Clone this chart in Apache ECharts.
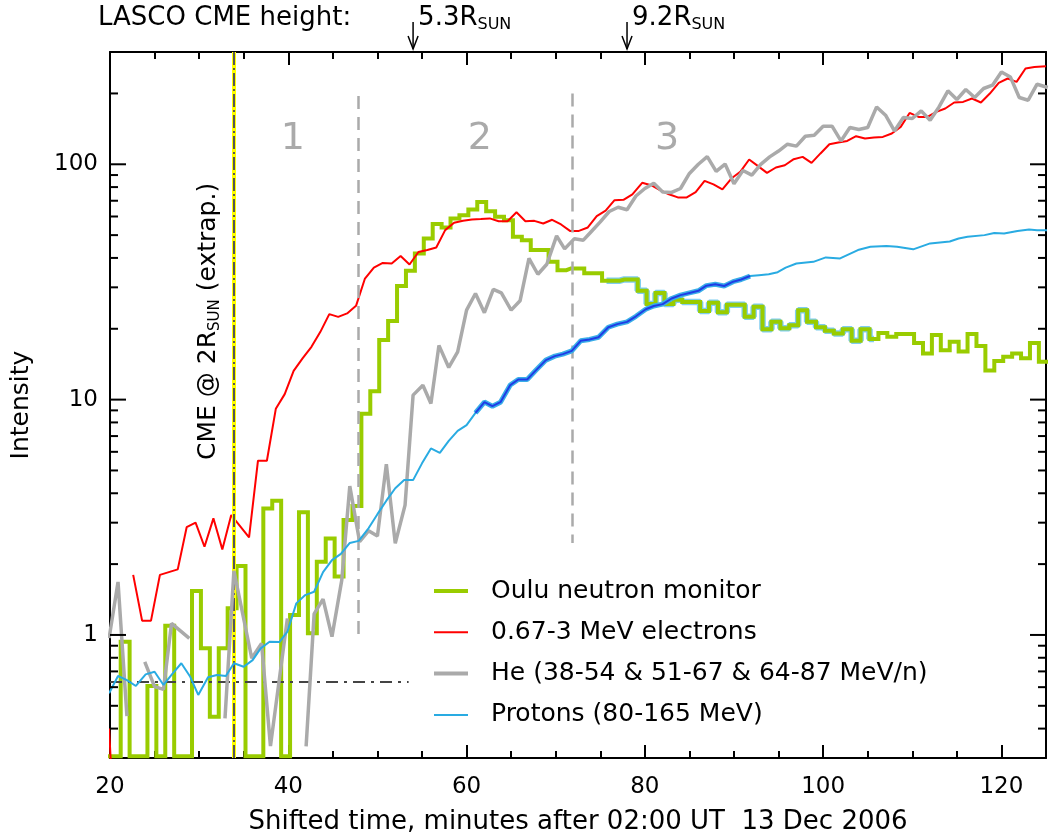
<!DOCTYPE html>
<html><head><meta charset="utf-8">
<script src="https://cdn.jsdelivr.net/npm/echarts@6/dist/echarts.min.js"></script>
<style>html,body{margin:0;padding:0;background:#fff}#c{width:1049px;height:839px}</style>
</head><body><div id="c"></div>
<script>
// ---------------- data ----------------
const ouluT = [19.7,20.7,21.7,22.7,23.7,24.7,25.7,26.7,27.7,28.7,29.7,30.7,31.7,32.7,33.7,34.7,35.7,36.7,37.7,38.7,39.7,
  40.7,41.7,42.7,43.7,44.7,45.7,46.7,47.7,48.7,49.7,50.7,51.7,52.7,53.7,54.7,55.7,56.7,57.7,58.7,59.7,
  60.7,61.7,62.7,63.7,64.7,65.7,66.7,67.7,68.7,69.7,70.7,71.7,72.7,73.7,74.7,75.7,76.7,77.7,78.7,79.7,
  80.7,81.7,82.7,83.7,84.7,85.7,86.7,87.7,88.7,89.7,90.7,91.7,92.7,93.7,94.7,95.7,96.7,97.7,98.7,99.7,
  100.7,101.7,102.7,103.7,104.7,105.7,106.7,107.7,108.7,109.7,110.7,111.7,112.7,113.7,114.7,115.7,116.7,117.7,118.7,119.7,
  120.7,121.7,122.7,123.7,124.7,125.7];
const ouluV = [0.305,0.305,0.936,0.305,0.305,0.607,0.305,1.094,0.305,0.305,1.536,0.877,0.449,0.877,1.297,1.962,0.305,0.305,3.45,3.72,0.305,
  1.215,3.32,1.016,2.046,2.57,1.77,3.08,3.53,8.7,10.85,17.9,21.6,30.4,35.3,41.8,48.4,55.7,53.9,58.9,60.8,
  64.3,69.2,63.2,59.8,57.9,49.2,47.6,43.2,43.2,38.5,35.5,36.1,36.1,34.4,34.4,32.0,32.0,32.4,32.4,29.0,
  25.5,28.4,25.5,26.6,26.0,26.0,23.8,25.8,23.5,25.3,25.3,22.5,24.8,19.9,21.4,20.1,20.7,24.0,21.4,20.3,
  19.6,19.1,19.9,17.8,19.9,18.1,19.2,18.5,19.0,19.0,17.4,15.7,18.8,16.2,17.6,16.0,19.0,16.9,13.3,14.6,
  15.2,15.7,15.0,17.4,14.5,14.5];

const elecT = [19.9,20.3,21.5,22.6,23.6,24.6,25.6,27.6,28.6,29.6,30.6,31.6,32.6,33.6,35.6,36.6,37.6,38.6,39.6,
  40.6,41.6,42.6,43.6,44.6,45.6,46.6,47.6,48.6,49.6,50.6,51.6,52.6,53.6,54.6,55.6,56.6,57.6,58.6,59.6,
  60.6,61.6,62.6,63.6,64.6,65.6,66.6,67.6,68.6,69.6,70.6,71.6,72.6,73.6,74.6,75.6,76.6,77.6,78.6,79.7,
  80.7,81.7,82.7,83.7,84.7,85.7,86.7,87.7,88.7,89.7,90.7,91.7,92.7,93.7,94.7,95.7,96.7,97.7,98.7,99.7,
  100.7,101.7,102.7,103.7,104.7,105.7,106.7,107.7,108.7,109.7,110.7,111.7,112.7,113.7,114.7,115.7,116.7,117.7,118.7,119.7,
  120.7,121.7,122.7,123.7,125.0];
const elecV = [0.40,0.20,null,1.80,1.15,1.15,1.80,1.90,2.87,3.00,2.37,3.13,2.31,3.23,2.60,5.50,5.50,9.14,10.55,
  13.25,14.96,16.76,19.41,23.08,22.47,23.24,25.03,32.7,36.4,38.1,37.9,40.8,37.5,42.4,43.2,44.3,52.5,56.4,57.5,
  58.3,58.5,58.9,57.3,57.3,62.5,57.3,57.5,56.0,58.1,55.5,52.1,52.1,53.9,60.2,63.5,70.4,70.6,74.5,83.4,
  81.5,77.6,74.6,72.3,72.3,76.1,85.0,82.1,78.2,87.0,92.9,104.8,98.2,91.9,96.9,99.1,105.1,107.5,101.4,111.2,
  121.7,123.8,125.7,131.6,128.7,130.0,130.7,135.1,144.2,165.3,159.0,159.0,167.0,172.6,183.0,184.1,190.3,183.0,199.8,221.7,
  231.5,223.9,255.3,259.3,261.1];

const heT = [19.9,20.9,21.9,22.9,23.9,25.0,26.0,26.9,28.9,30.9,32.9,33.9,35.9,37.0,38.0,39.9,41.0,
  42.0,42.9,43.9,44.9,46.0,46.9,48.0,49.0,50.0,51.0,52.0,53.1,54.0,55.1,56.0,56.9,58.0,59.0,
  60.0,61.0,62.0,63.0,63.9,65.0,66.0,67.0,68.0,69.0,70.1,71.0,72.1,73.1,74.0,75.0,76.0,77.0,78.0,79.0,
  80.0,81.0,82.0,83.0,84.0,85.0,86.0,87.0,88.0,89.0,90.0,91.0,92.0,93.0,94.0,95.0,96.0,97.0,98.0,99.0,
  100.0,101.0,102.0,103.0,104.0,105.0,106.0,107.0,108.0,109.0,110.0,111.0,112.0,113.0,114.0,115.0,116.0,117.0,118.0,119.0,
  120.0,121.0,122.0,123.0,124.0,125.2];
const heV = [0.97,1.68,0.452,null,0.769,0.603,0.587,1.12,0.967,null,0.442,1.874,0.796,0.921,0.337,1.176,null,
  0.336,1.23,1.42,0.983,1.71,4.29,2.49,2.77,2.63,5.32,2.45,3.56,10.45,11.5,9.63,17.0,13.7,15.96,
  24.0,28.25,23.4,29.4,28.4,24.0,26.3,39.8,34.1,37.6,49.6,43.7,48.3,47.6,51.8,56.9,63.0,65.7,64.1,73.3,
  78.9,83.1,76.3,75.9,78.9,91.4,100.0,107.8,93.3,100.2,82.6,94.1,89.9,100.0,107.5,113.8,121.7,119.4,131.6,132.9,
  145.2,145.2,125.7,143.3,140.6,143.3,175.3,161.7,138.6,158.1,156.5,168.6,153.9,175.3,205.1,188.5,207.8,192.2,209.9,216.8,
  246.9,235.1,192.2,187.2,218.9,212.0];

const protT = [19.9,20.9,21.9,22.9,24.0,25.0,26.0,26.9,28.0,29.0,29.9,31.0,32.0,33.0,33.9,35.0,36.0,36.9,37.9,39.0,39.9,
  40.9,41.9,42.9,43.9,44.9,45.9,46.9,47.9,49.0,50.0,51.0,52.0,53.0,54.0,55.0,56.0,57.0,58.0,59.0,
  60.0,61.0,62.0,62.9,63.8,64.9,65.8,66.8,67.8,68.9,69.9,70.8,71.8,72.8,73.8,74.8,75.9,76.9,78.0,79.0,
  80.1,81.0,82.0,83.0,84.0,85.0,86.0,86.9,87.9,88.9,89.9,90.8,91.8,92.8,93.9,94.9,95.8,97.0,98.9,
  100.3,101.9,103.9,105.3,107.1,108.3,110.1,112.0,114.2,115.2,116.2,118.1,119.2,120.3,121.8,123.1,124.0,125.2];
const protV = [0.565,0.669,0.643,0.607,0.680,0.698,0.613,0.676,0.758,0.664,0.556,0.661,0.676,0.669,0.758,0.733,0.782,0.877,0.936,0.933,1.032,
  1.362,1.477,1.526,1.85,2.08,2.21,2.46,2.51,2.84,3.26,3.72,4.20,4.55,4.55,5.36,6.20,5.94,6.68,7.37,
  7.79,8.79,9.76,9.38,9.75,11.53,12.18,12.18,13.35,14.72,15.30,15.61,16.12,17.78,18.02,18.4,20.3,20.93,21.4,22.6,
  24.2,25.0,25.45,26.9,27.8,28.4,29.0,30.5,30.9,30.4,31.7,32.4,33.5,33.8,34.1,34.8,36.4,37.9,38.5,
  40.2,39.8,43.2,44.6,44.9,44.6,43.5,46.1,47.0,48.4,49.2,50.0,51.1,50.8,52.1,52.8,52.5,52.5];

const xTickLabels = [20,40,60,80,100,120];
const yMajorTicks = [1,10,100];
const yMinorTicks = [0.4,0.5,0.6,0.7,0.8,0.9,2,3,4,5,6,7,8,9,20,30,40,50,60,70,80,90,200];
const legendNames = ['Oulu neutron monitor','0.67-3 MeV electrons','He (38-54 & 51-67 & 64-87 MeV/n)','Protons (80-165 MeV)'];
const phaseLabels = ['1','2','3'];
const phaseX = [40.5,61.5,82.5];
const cmeHeights = [{x:54, label:'5.3R'},{x:78, label:'9.2R'}];

// ---------------- chart ----------------
const FONT = "'DejaVu Sans', sans-serif";
const zip = (t, v) => t.map((x, i) => [x, v[i] == null ? null : v[i]]);
const sub = (t, v, a, b) => zip(t, v).filter(d => d[0] >= a && d[0] <= b);
const chart = echarts.init(document.getElementById('c'), null, {renderer: 'canvas'});

const axisLineStyle = {color: '#000', width: 2};
function xAxisDef(pos, showLabels) {
  return {
    type: 'value', position: pos, min: 20, max: 125, interval: 20,
    axisLine: {show: true, onZero: false, lineStyle: axisLineStyle},
    axisTick: {show: true, inside: true, length: 13, lineStyle: axisLineStyle},
    minorTick: {show: true, splitNumber: 4, length: 7, lineStyle: axisLineStyle},
    splitLine: {show: false}, minorSplitLine: {show: false},
    axisLabel: {show: showLabels, margin: 18, fontSize: 23, fontFamily: FONT, color: '#000',
      showMaxLabel: false,
      formatter: v => xTickLabels.indexOf(v) >= 0 ? String(v) : ''},
    name: showLabels ? 'Shifted time, minutes after 02:00 UT  13 Dec 2006' : '',
    nameLocation: 'middle', nameGap: 51,
    nameTextStyle: {fontSize: 26, fontFamily: FONT, color: '#000'}
  };
}
function yAxisDef(pos, showLabels) {
  return {
    type: 'log', logBase: 10, position: pos, min: 0.3, max: 300,
    axisLine: {show: true, onZero: false, lineStyle: axisLineStyle},
    axisTick: {show: false}, minorTick: {show: false},
    splitLine: {show: false}, minorSplitLine: {show: false},
    axisLabel: {show: showLabels, margin: 12, fontSize: 23, fontFamily: FONT, color: '#000',
      showMinLabel: false, showMaxLabel: false,
      formatter: v => { const l = Math.log10(v); return Math.abs(l - Math.round(l)) < 1e-6 && yMajorTicks.indexOf(Math.round(v)) >= 0 ? String(Math.round(v)) : ''; }},
    name: showLabels ? 'Intensity' : '',
    nameLocation: 'middle', nameGap: 76,
    nameTextStyle: {fontSize: 25, fontFamily: FONT, color: '#000'}
  };
}

const tickData = yMajorTicks.map(v => [20, v, 1]).concat(yMinorTicks.map(v => [20, v, 0]));
const legendColors = ['#99cc00', '#ff0000', '#aaaaaa', '#29abe2'];
const legendWidths = [4, 2, 4, 2];

const option = {
  animation: false,
  backgroundColor: '#fff',
  grid: {left: 110, right: 3, top: 52, bottom: 81, outerBoundsMode: 'none', containLabel: false},
  xAxis: [xAxisDef('bottom', true), xAxisDef('top', false)],
  yAxis: [yAxisDef('left', true), yAxisDef('right', false)],
  legend: {
    show: true, orient: 'vertical', left: 432, top: 578, padding: 0,
    itemWidth: 34, itemHeight: 14, itemGap: 15.3,
    selectedMode: false,
    textStyle: {fontSize: 25, fontFamily: FONT, color: '#000', lineHeight: 26, padding: [0, 0, 0, 18]},
    data: legendNames.map((n, i) => ({
      name: n,
      itemStyle: {opacity: 0},
      lineStyle: {width: legendWidths[i], color: legendColors[i], opacity: 1}
    }))
  },
  series: [
    {
      name: 'ouluOutline', type: 'line', step: 'middle', symbol: 'none', silent: true,
      data: sub(ouluT, ouluV, 75.6, 105.8), lineStyle: {color: '#7fcdf0', width: 6.5}, z: 2,
      markLine: {
        silent: true, symbol: ['none', 'none'], label: {show: false},
        lineStyle: {color: '#aaaaaa', width: 2.5, type: [13, 8]},
        data: [
          [{coord: [47.8, 195]}, {coord: [47.8, 1.0]}],
          [{coord: [71.9, 200]}, {coord: [71.9, 2.46]}]
        ]
      }
    },
    {
      name: legendNames[0], type: 'line', step: 'middle', symbol: 'none', showSymbol: false,
      data: zip(ouluT, ouluV), lineStyle: {color: '#99cc00', width: 4, join: 'miter'},
      itemStyle: {color: '#99cc00'}, z: 3
    },
    {
      name: legendNames[1], type: 'line', symbol: 'none', showSymbol: false,
      data: zip(elecT, elecV), lineStyle: {color: '#ff0000', width: 2}, itemStyle: {color: '#ff0000'}, z: 4
    },
    {
      name: legendNames[2], type: 'line', symbol: 'none', showSymbol: false,
      data: zip(heT, heV), lineStyle: {color: '#aaaaaa', width: 3.5}, itemStyle: {color: '#aaaaaa'}, z: 5
    },
    {
      name: legendNames[3], type: 'line', symbol: 'none', showSymbol: false,
      data: zip(protT, protV), lineStyle: {color: '#29abe2', width: 2}, itemStyle: {color: '#29abe2'}, z: 6
    },
    {
      name: 'protOuter', type: 'line', symbol: 'none', silent: true,
      data: sub(protT, protV, 61, 92), lineStyle: {color: '#3aaee8', width: 5}, z: 7
    },
    {
      name: 'protInner', type: 'line', symbol: 'none', silent: true,
      data: sub(protT, protV, 61, 92), lineStyle: {color: '#1f3ce6', width: 2}, z: 8,
      markLine: {
        silent: true, symbol: ['none', 'none'], label: {show: false},
        data: [
          [{coord: [20, 0.63], lineStyle: {color: '#444', width: 2, type: [12, 6, 3, 6]}}, {coord: [53.5, 0.63]}],
          [{coord: [33.85, 0.3], lineStyle: {color: '#ffff00', width: 4, type: 'solid'}}, {coord: [33.85, 300]}],
          [{coord: [33.85, 0.3], lineStyle: {color: '#555555', width: 2, type: [13, 3, 2, 3]}}, {coord: [33.85, 300]}]
        ]
      }
    },
    {
      name: 'yTicks', type: 'custom', silent: true, clip: false, z: 20,
      encode: {x: 0, y: 1},
      data: tickData,
      renderItem: (params, api) => {
        const y = api.coord([20, api.value(1)])[1];
        const cs = params.coordSys;
        const len = api.value(2) ? 16 : 8;
        const st = {stroke: '#000', lineWidth: 2};
        return {type: 'group', children: [
          {type: 'line', shape: {x1: cs.x, y1: y, x2: cs.x + len, y2: y}, style: st},
          {type: 'line', shape: {x1: cs.x + cs.width - len, y1: y, x2: cs.x + cs.width, y2: y}, style: st}
        ]};
      }
    }
  ]
};
chart.setOption(option);

// ---------------- annotations ----------------
const P = (x, y) => chart.convertToPixel({xAxisIndex: 0, yAxisIndex: 0}, [x, y]);
const g = [];
phaseLabels.forEach((s, i) => {
  const p = P(phaseX[i], 128);
  g.push({type: 'text', x: p[0], y: p[1], z: 30,
    style: {text: s, fontSize: 38, fontFamily: FONT, fill: '#aaaaaa', align: 'center', verticalAlign: 'middle'}});
});
const cp = P(31.0, 21.5);
g.push({type: 'text', x: cp[0], y: cp[1], rotation: Math.PI / 2, z: 30,
  style: {text: '{a|CME @ 2R}{s|SUN}{a| (extrap.)}', align: 'center', verticalAlign: 'middle', fill: '#000',
    rich: {a: {fontSize: 25, fontFamily: FONT, lineHeight: 30, verticalAlign: 'middle'},
           s: {fontSize: 15, fontFamily: FONT, lineHeight: 15, verticalAlign: 'bottom'}}}});
g.push({type: 'text', x: 98, y: 18, z: 30,
  style: {text: 'LASCO CME height:', fontSize: 26, fontFamily: FONT, fill: '#000', align: 'left', verticalAlign: 'middle'}});
cmeHeights.forEach(h => {
  const px = P(h.x, 300)[0];
  g.push({type: 'line', z: 30, shape: {x1: px, y1: 22, x2: px, y2: 49}, style: {stroke: '#000', lineWidth: 1.5}});
  g.push({type: 'polyline', z: 30, shape: {points: [[px - 5, 36], [px, 49], [px + 5, 36]]}, style: {stroke: '#000', lineWidth: 1.5, fill: null}});
  g.push({type: 'text', x: px + 5, y: 18, z: 30,
    style: {text: '{a|' + h.label + '}{s|SUN}', align: 'left', verticalAlign: 'middle', fill: '#000',
      rich: {a: {fontSize: 26, fontFamily: FONT, lineHeight: 30, verticalAlign: 'middle'},
             s: {fontSize: 16, fontFamily: FONT, lineHeight: 16, verticalAlign: 'bottom'}}}});
});
chart.setOption({graphic: g});
</script>
</body></html>
